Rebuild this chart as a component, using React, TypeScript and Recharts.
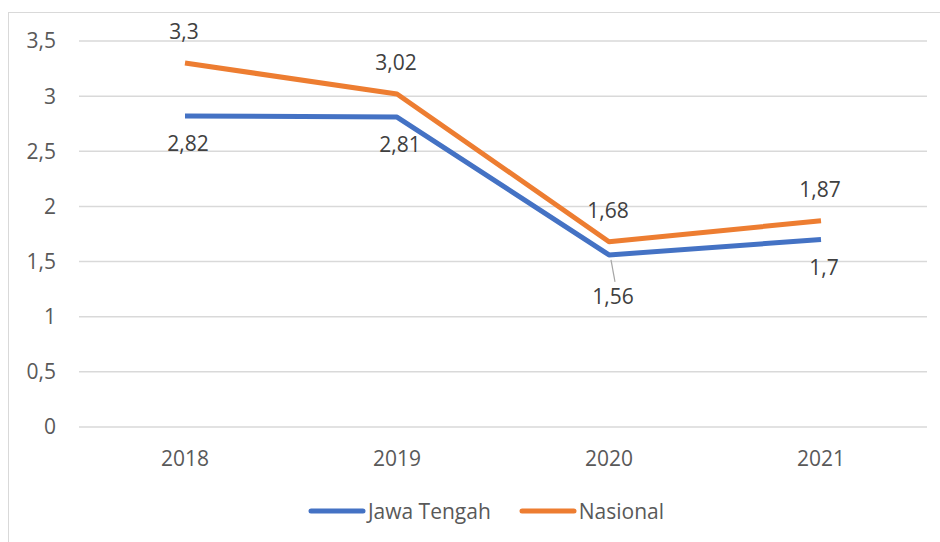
import React from "react";
import { CartesianGrid, LabelList, Line, LineChart, XAxis, YAxis } from "recharts";

const years = ["2018", "2019", "2020", "2021"];
const jawaTengah = [2.82, 2.81, 1.56, 1.7];
const nasional = [3.3, 3.02, 1.68, 1.87];
const yTicks = [0, 0.5, 1, 1.5, 2, 2.5, 3, 3.5];

const data = years.map((year, i) => ({ year, jawaTengah: jawaTengah[i], nasional: nasional[i] }));

const FONT = "'Open Sans', sans-serif";
const BLUE = "#4472C4";
const ORANGE = "#ED7D31";
const FS = 21;

const fmt = (v: number) => String(v).replace(".", ",");

// label above the line for Nasional, below for Jawa Tengah
const makeLabel = (below: boolean) => (props: any) => {
  const { x, y, value, index } = props;
  if (below) {
    // the 2020 label sits lower with a small leader line, like in excel
    const far = index === 2;
    const ly = y + (far ? 41 : 27);
    const lx = x + (far ? 4 : 3);
    return (
      <g>
        {far && <line x1={x + 2} y1={y + 5} x2={x + 6} y2={y + 27} stroke="#a6a6a6" strokeWidth={1.2} />}
        <text x={lx} y={ly} textAnchor="middle" dominantBaseline="central" fill="#404040" fontSize={FS} fontFamily={FONT}>
          {fmt(value)}
        </text>
      </g>
    );
  }
  return (
    <text x={x - 1} y={y - 32} textAnchor="middle" dominantBaseline="central" fill="#404040" fontSize={FS} fontFamily={FONT}>
      {fmt(value)}
    </text>
  );
};

function LegendBox() {
  const items = [
    { name: "Jawa Tengah", color: BLUE },
    { name: "Nasional", color: ORANGE },
  ];
  return (
    <div style={{ position: "absolute", left: 16, top: 496, width: 940, display: "flex", justifyContent: "center", gap: 28, fontFamily: FONT, fontSize: FS, color: "#595959", lineHeight: "30px" }}>
      {items.map((it) => (
        <div key={it.name} style={{ display: "flex", alignItems: "center", gap: 2 }}>
          <svg width={58} height={8}>
            <line x1={3} y1={4} x2={55} y2={4} stroke={it.color} strokeWidth={5} strokeLinecap="round" />
          </svg>
          <span>{it.name}</span>
        </div>
      ))}
    </div>
  );
}

export default function App() {
  return (
    <div style={{ position: "absolute", left: 0, top: 0, width: 940, height: 542, overflow: "hidden", background: "#fff" }}>
      <div style={{ position: "absolute", left: 8, top: 12, width: 960, height: 560, border: "1.5px solid #d9d9d9" }} />
      <LineChart width={940} height={542} data={data} margin={{ top: 41, right: 13, left: 0, bottom: 85 }} style={{ position: "absolute", left: 0, top: 0 }}>
        <CartesianGrid vertical={false} stroke="#d9d9d9" strokeWidth={1.5} />
        <XAxis
          dataKey="year"
          axisLine={false}
          tickLine={false}
          tickMargin={18}
          padding={{ left: 106, right: 106 }}
          tick={{ fill: "#595959", fontSize: FS, fontFamily: FONT }}
        />
        <YAxis
          width={79}
          domain={[0, 3.5]}
          ticks={yTicks}
          axisLine={false}
          tickLine={false}
          tickMargin={17}
          tickFormatter={fmt}
          tick={{ fill: "#595959", fontSize: FS, fontFamily: FONT }}
        />
        <Line dataKey="jawaTengah" name="Jawa Tengah" stroke={BLUE} strokeWidth={5} dot={false} strokeLinejoin="round" isAnimationActive={false}>
          <LabelList dataKey="jawaTengah" content={makeLabel(true)} />
        </Line>
        <Line dataKey="nasional" name="Nasional" stroke={ORANGE} strokeWidth={5} dot={false} strokeLinejoin="round" isAnimationActive={false}>
          <LabelList dataKey="nasional" content={makeLabel(false)} />
        </Line>
      </LineChart>
      <LegendBox />
    </div>
  );
}
